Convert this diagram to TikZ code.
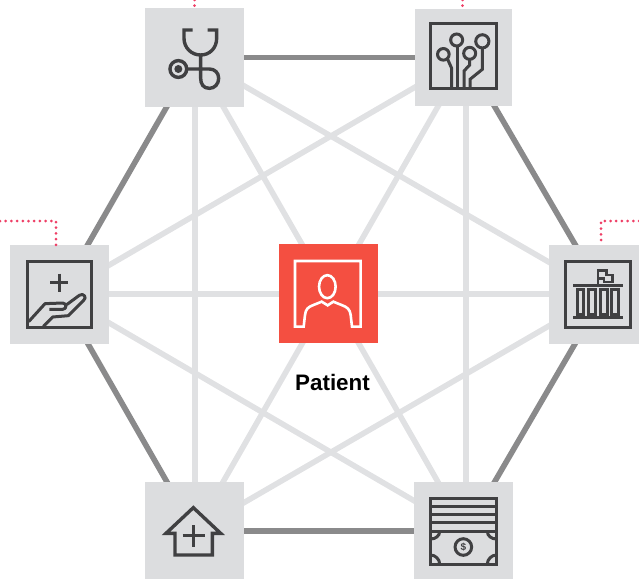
\documentclass[tikz,border=0pt]{standalone}
\usepackage{fontspec}
\setmainfont{Liberation Sans}
\usetikzlibrary{backgrounds}
\definecolor{boxgray}{HTML}{DCDDDF}
\definecolor{lightline}{HTML}{E0E1E3}
\definecolor{darkline}{HTML}{8A8A8B}
\definecolor{icondark}{HTML}{404042}
\definecolor{patientred}{HTML}{F44F41}
\definecolor{dotpink}{HTML}{EE3F66}
\tikzset{
  hub/.style={fill=boxgray,inner sep=0pt,minimum width=99pt,minimum height=99pt},
  strong/.style={draw=darkline,line width=5.6pt},
  weak/.style={draw=lightline,line width=5.6pt},
  dotlink/.style={draw=dotpink,line width=3pt,line cap=round,dash pattern=on 0pt off 5.7pt},
  icon/.style={draw=icondark,line width=3pt,fill=none},
  iconarea/.style 2 args={shift={(#1pt,-#2pt)},x=0.33333pt,y=-0.33333pt},
}
\begin{document}
\begin{tikzpicture}[x=1pt,y=-1pt]
\path[use as bounding box,clip] (0,0) rectangle (639,578);
\node[hub] (tl) at (194.5,57.5) {};
\node[hub,minimum width=97pt,minimum height=97pt] (tr) at (463.4,57.2) {};
\node[hub] (ml) at (59.5,294.5) {};
\node[hub] (mr) at (598.5,294) {};
\node[hub] (bl) at (194.5,531.5) {};
\node[hub] (br) at (463.5,531.5) {};
\node[fill=patientred,inner sep=0pt,minimum width=99pt,minimum height=99pt] (pt) at (328.5,293.5) {};
\node[inner sep=0pt,font=\bfseries\fontsize{22.4}{24}\selectfont,text=black] (ptlabel) at (332.5,382.5) {Patient};
% meeting points of the connectors behind the boxes
\coordinate (ntl) at (195,57.5);
\coordinate (ntr) at (466,57.5);
\coordinate (nml) at (59.5,294);
\coordinate (nmr) at (604,294);
\coordinate (nbl) at (195,531);
\coordinate (nbr) at (466,531);
\coordinate (npt) at (330.5,294);
\coordinate (dtl) at (194.5,0);
\coordinate (dtr) at (462.5,0);
\coordinate (dml) at (0,221);
\coordinate (dmlc) at (56,221);
\coordinate (dmr) at (639,221);
\coordinate (dmrc) at (601,221);
\begin{pgfonlayer}{background}
  \foreach \a/\b in {ntl/npt,ntr/npt,nml/npt,nmr/npt,nbl/npt,nbr/npt,ntl/nbl,ntr/nbr,ntl/nmr,ntr/nml,nbl/nmr,nbr/nml}
    \path[weak] (\a) -- (\b);
  \foreach \a/\b in {ntl/ntr,ntr/nmr,nmr/nbr,nbr/nbl,nbl/nml,nml/ntl}
    \path[strong] (\a) -- (\b);
\end{pgfonlayer}
\path[dotlink] (dtl) -- (tl.north);
\path[dotlink] (dtr) -- (tr.north -| dtr);
\path[dotlink] (dml) -- (dmlc) -- (ml.north -| dmlc);
\path[dotlink] (dmr) -- (dmrc) -- (mr.north -| dmrc);
% stethoscope
\begin{scope}[iconarea={130}{0}]
  \draw[icon,line width=3.4pt] (188,90) -- (162,90) -- (162,115) .. controls (162,143) and (184,165) .. (212,165) .. controls (240,165) and (260,143) .. (260,115) -- (260,90) -- (233,90);
  \draw[icon,line width=3.4pt] (212,165) -- (212,235) .. controls (212,252) and (220,265) .. (238,265) .. controls (254,265) and (266,252) .. (266,235) .. controls (266,218) and (254,207) .. (238,207) -- (172,207);
  \draw[icon,line width=3.4pt] (145,207) circle[radius=8.4pt];
  \fill[icondark] (145,207) circle[radius=4pt];
\end{scope}
% circuit
\begin{scope}[iconarea={400}{0}]
  \draw[icon] (91,70) rectangle (289,267);
  \draw[icon] (130,163) circle[radius=5.8pt] (170,120) circle[radius=6pt] (209,160) circle[radius=6pt] (247,124) circle[radius=6.6pt];
  \draw[icon] (143,178) -- (155,205) -- (155,265);
  \draw[icon] (172,138) -- (172,265);
  \draw[icon] (209,178) -- (209,195) -- (192,213) -- (192,265);
  \draw[icon] (247,143) -- (247,208) -- (210,238) -- (210,265);
\end{scope}
% hand
\begin{scope}[iconarea={0}{210}]
  \draw[icon] (83,154) rectangle (275,351);
  \draw[icon] (150,218) -- (204,218) (177,191) -- (177,247);
  \draw[icon,line join=round] (86,335) -- (135,281) -- (188,279) .. controls (200,279) and (202,298) .. (188,298) -- (148,298);
  \draw[icon,line join=round] (200,284) -- (238,256) .. controls (250,247) and (263,263) .. (250,272) -- (205,317) -- (158,321) -- (130,349);
\end{scope}
% building
\begin{scope}[iconarea={530}{210}]
  \draw[icon] (105,154) rectangle (302,351);
  \draw[icon] (129,227) -- (278,227) (129,323) -- (278,323);
  \draw[icon] (142,239) rectangle (161,312) (176,239) rectangle (196,312) (210,239) rectangle (231,312) (245,239) rectangle (265,312);
  \draw[icon,line width=2.6pt] (204,224) -- (204,182) -- (230,182) -- (230,195) -- (248,195) -- (248,216) -- (222,216) -- (222,205) -- (204,205);
\end{scope}
% house
\begin{scope}[iconarea={130}{470}]
  \draw[icon,line width=3.4pt,miter limit=4] (108,190) -- (190,113) -- (272,190) -- (247,190) -- (247,255) -- (135,255) -- (135,190) -- cycle;
  \draw[icon,line width=3.4pt] (158,197) -- (224,197) (191,165) -- (191,230);
\end{scope}
% money
\begin{scope}[iconarea={400}{470}]
  \draw[icon] (92,85) rectangle (289,282);
  \draw[icon] (92,108) -- (289,108) (92,133) -- (289,133) (92,158) -- (289,158) (92,184) -- (289,184);
  \draw[icon] (92,207) .. controls (106,207) and (119,198) .. (119,184);
  \draw[icon] (262,184) .. controls (262,198) and (275,207) .. (289,207);
  \draw[icon] (92,255) .. controls (106,255) and (119,268) .. (119,282);
  \draw[icon] (262,282) .. controls (262,268) and (275,255) .. (289,255);
  \draw[icon] (190,231) circle[radius=8.3pt];
  \node[inner sep=0pt,font=\bfseries\fontsize{10}{10}\selectfont,text=icondark] (dollar) at (190,231) {\$};
\end{scope}
% patient
\begin{scope}[iconarea={265}{235}]
  \draw[draw=white,line width=2.6pt,line join=miter] (90,78) -- (287,78) -- (287,275) -- (261,275) -- (257,240) .. controls (255,222) and (245,216) .. (232,211) -- (205,200) -- (188,211) -- (170,200) -- (143,211) .. controls (130,216) and (122,222) .. (120,240) -- (116,275) -- (90,275) -- cycle;
  \draw[draw=white,line width=2.6pt] (187,155) ellipse[x radius=8.3pt,y radius=11.5pt];
\end{scope}
\end{tikzpicture}
\end{document}
